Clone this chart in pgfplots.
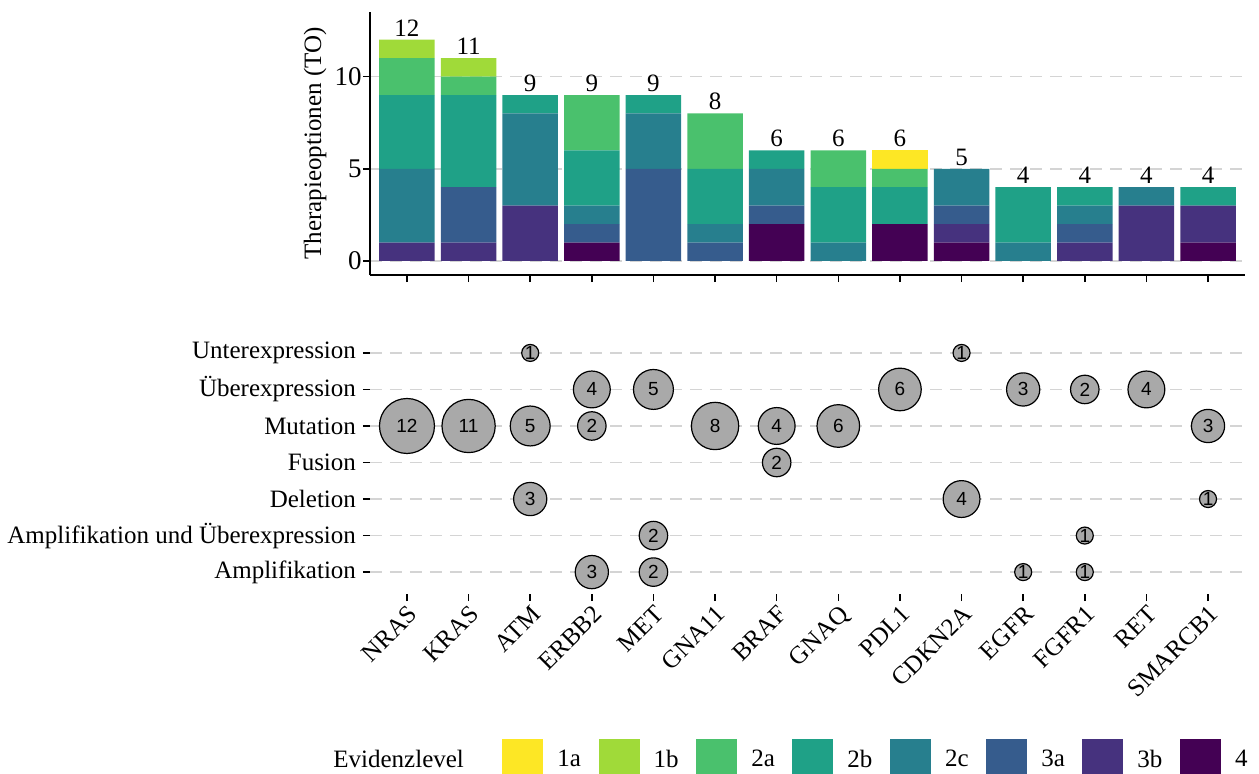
\documentclass[border=0pt]{standalone}
\usepackage{fontspec}
\setmainfont{Liberation Serif}
\newfontfamily\sansf{Liberation Sans}
\usepackage{pgfplots}
\pgfplotsset{compat=1.18}
\usepackage{pgfplotstable}
\definecolor{c1a}{HTML}{FDE725}
\definecolor{c1b}{HTML}{A0DA39}
\definecolor{c2a}{HTML}{4AC16D}
\definecolor{c2b}{HTML}{1FA187}
\definecolor{c2c}{HTML}{277F8E}
\definecolor{c3a}{HTML}{365C8D}
\definecolor{c3b}{HTML}{46327E}
\definecolor{c4}{HTML}{440154}
\definecolor{bubgray}{HTML}{A9A9A9}
\definecolor{gridgray}{HTML}{D4D4D4}

\pgfplotstableread{
x  l4 l3b l3a l2c l2b l2a l1b l1a tot
0  0  1   0   4   4   2   1   0   12
1  0  1   3   0   5   1   1   0   11
2  0  3   0   5   1   0   0   0   9
3  1  0   1   1   3   3   0   0   9
4  0  0   5   3   1   0   0   0   9
5  0  0   1   1   3   3   0   0   8
6  2  0   1   2   1   0   0   0   6
7  0  0   0   1   3   2   0   0   6
8  2  0   0   0   2   1   0   1   6
9  1  1   1   2   0   0   0   0   5
10 0  0   0   1   3   0   0   0   4
11 0  1   1   1   1   0   0   0   4
12 0  3   0   1   0   0   0   0   4
13 1  2   0   0   1   0   0   0   4
}\bars

\pgfplotstableread{
x  y v
2  7 1
9  7 1
3  6 4
4  6 5
8  6 6
10 6 3
11 6 2
12 6 4
0  5 12
1  5 11
2  5 5
3  5 2
5  5 8
6  5 4
7  5 6
13 5 3
6  4 2
2  3 3
9  3 4
13 3 1
4  2 2
11 2 1
3  1 3
4  1 2
10 1 1
11 1 1
}\bubbles

\pgfplotsset{
  /pgf/number format/assume math mode=true,
  every axis/.append style={
    grid style={dash pattern=on 6pt off 4pt, line width=0.75pt, color=gridgray},
    tick align=outside,
    major tick length=3.5pt,
    tick style={black, line width=0.75pt},
    axis line style={line width=0.75pt},
  },
  topgeom/.style={
    at={(185pt,-6pt)}, anchor=north west,
    width=437.5pt, height=131.5pt, scale only axis,
    xmin=-0.6, xmax=13.6, ymin=-0.76, ymax=13.5,
  },
}

\begin{document}
\begin{tikzpicture}
\useasboundingbox (0pt,0pt) rectangle (629.5pt,-386.5pt);

% ---------- top: stacked bars ----------
\begin{axis}[
  topgeom,
  ybar stacked, bar width=0.9,
  axis x line*=bottom, axis y line*=left,
  xtick={0,...,13}, xticklabels={},
  ytick={0,5,10},
  ymajorgrids,
  yticklabel style={font=\fontsize{13.5}{15}\selectfont, inner sep=0.5pt},
  ylabel={Therapieoptionen (TO)},
  ylabel style={font=\fontsize{12.5}{15}\selectfont},
]
\addplot[fill=c4,  draw=none] table[x=x, y=l4]  {\bars};
\addplot[fill=c3b, draw=none] table[x=x, y=l3b] {\bars};
\addplot[fill=c3a, draw=none] table[x=x, y=l3a] {\bars};
\addplot[fill=c2c, draw=none] table[x=x, y=l2c] {\bars};
\addplot[fill=c2b, draw=none] table[x=x, y=l2b] {\bars};
\addplot[fill=c2a, draw=none] table[x=x, y=l2a] {\bars};
\addplot[fill=c1b, draw=none] table[x=x, y=l1b] {\bars};
\addplot[fill=c1a, draw=none] table[x=x, y=l1a] {\bars};
\end{axis}
% totals above bars (overlay axis with identical geometry)
\begin{axis}[topgeom, hide axis, clip=false]
\addplot[only marks, mark=none, nodes near coords, point meta=explicit,
  every node near coord/.append style={font=\fontsize{12.5}{14}\selectfont, anchor=south, inner sep=1.5pt, black}]
  table[x=x, y=tot, meta=tot] {\bars};
\end{axis}

% ---------- bottom: bubbles ----------
\begin{axis}[
  at={(185pt,-165.5pt)}, anchor=north west,
  width=437.5pt, height=131.5pt, scale only axis,
  xmin=-0.6, xmax=13.6, ymin=0.4, ymax=7.6,
  axis line style={draw=none},
  xtick pos=left, ytick pos=left,
  xtick={0,...,13},
  xticklabels={NRAS,KRAS,ATM,ERBB2,MET,GNA11,BRAF,GNAQ,PDL1,CDKN2A,EGFR,FGFR1,RET,SMARCB1},
  xticklabel style={rotate=45, anchor=north east, font=\fontsize{12.5}{14}\selectfont, inner sep=1pt},
  ytick={1,...,7},
  yticklabels={Amplifikation, Amplifikation und Überexpression, Deletion, Fusion, Mutation, Überexpression, Unterexpression},
  yticklabel style={font=\fontsize{12.5}{15}\selectfont},
  ymajorgrids,
  legend columns=9,
  legend style={at={(axis description cs:-0.0583,-0.631)}, anchor=west, draw=none, fill=none,
    inner sep=0pt, font=\fontsize{12.5}{15}\selectfont,
    nodes={inner sep=0pt},
    /tikz/every odd column/.append style={column sep=7pt},
    /tikz/every even column/.append style={column sep=8.8pt}},
  legend cell align=left,
  legend image code/.code={\fill[#1] (0pt,-10.25pt) rectangle (20.5pt,10.25pt);},
]
\addlegendimage{empty legend}\addlegendentry{Evidenzlevel\hbox to 10.5pt{}}
\addlegendimage{fill=c1a, draw=none}\addlegendentry{1a}
\addlegendimage{fill=c1b, draw=none}\addlegendentry{1b}
\addlegendimage{fill=c2a, draw=none}\addlegendentry{2a}
\addlegendimage{fill=c2b, draw=none}\addlegendentry{2b}
\addlegendimage{fill=c2c, draw=none}\addlegendentry{2c}
\addlegendimage{fill=c3a, draw=none}\addlegendentry{3a}
\addlegendimage{fill=c3b, draw=none}\addlegendentry{3b}
\addlegendimage{fill=c4, draw=none}\addlegendentry{4}
\addplot[forget plot, scatter, only marks, mark=*,
  point meta=explicit,
  visualization depends on={4.25+9.5*sqrt((\thisrow{v}-1)/11) \as \rad},
  scatter/@pre marker code/.code={\scope[mark size=\rad, fill=bubgray, draw=black, line width=0.6pt]},
  scatter/@post marker code/.code={\endscope},
] table[x=x, y=y, meta=v] {\bubbles};
\addplot[forget plot, only marks, mark=none,
  point meta=explicit,
  nodes near coords,
  every node near coord/.append style={anchor=center, inner sep=0pt, font=\sansf\fontsize{9.5}{9.5}\selectfont, black},
] table[x=x, y=y, meta=v] {\bubbles};
\end{axis}
\end{tikzpicture}
\end{document}
